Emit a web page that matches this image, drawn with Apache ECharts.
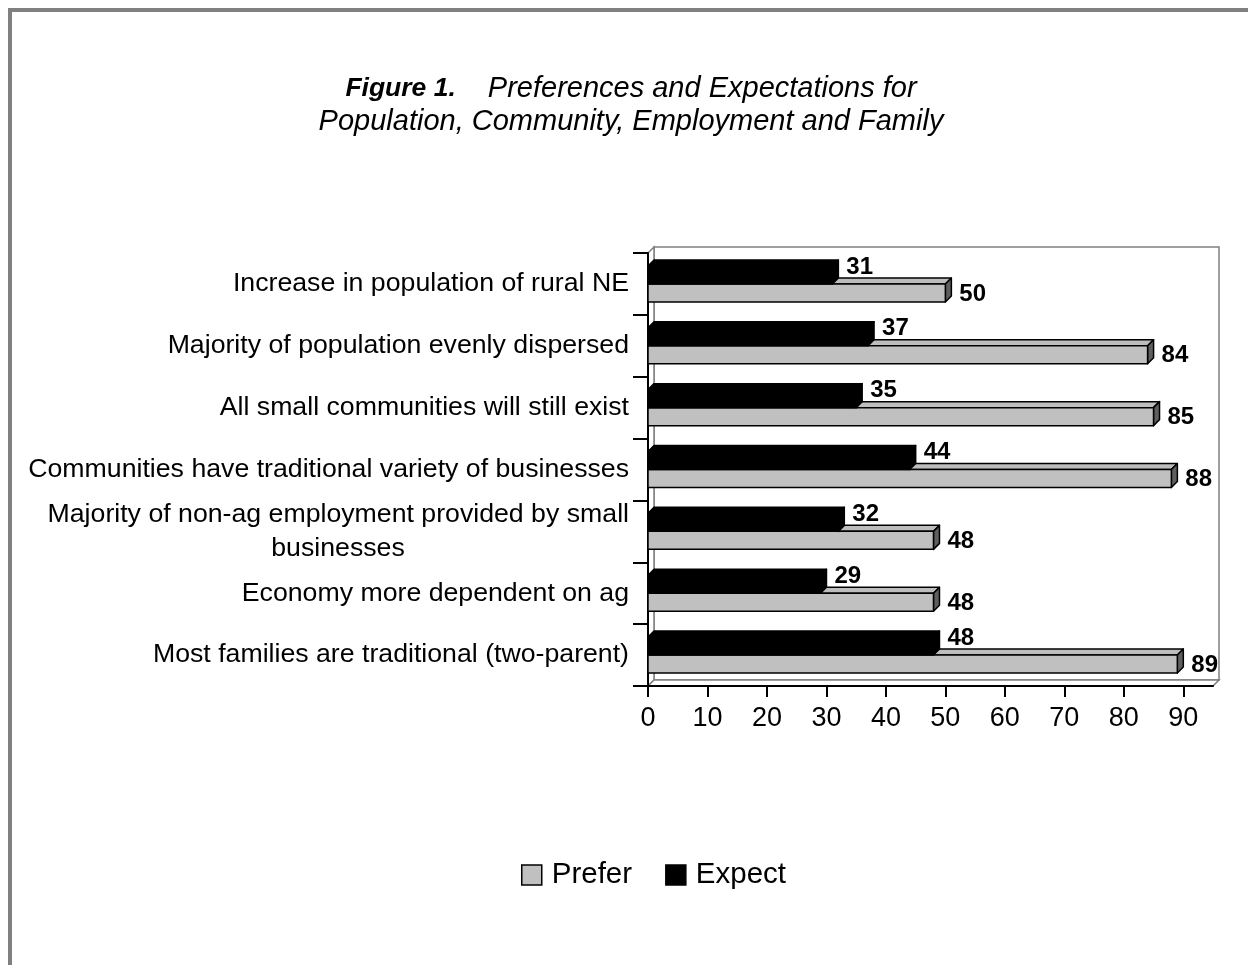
<!DOCTYPE html>
<html>
<head>
<meta charset="utf-8">
<script src="https://cdn.jsdelivr.net/npm/echarts@6/dist/echarts.min.js"></script>
<style>
html,body{margin:0;padding:0;background:#fff;}
#chart{width:1248px;height:965px;}
</style>
</head>
<body>
<div id="chart"></div>
<script>
const categories = [
  'Increase in population of rural NE',
  'Majority of population evenly dispersed',
  'All small communities will still exist',
  'Communities have traditional variety of businesses',
  'Majority of non-ag employment provided by small\nbusinesses',
  'Economy more dependent on ag',
  'Most families are traditional (two-parent)'
];
const preferValues = [50, 84, 85, 88, 48, 48, 89];
const expectValues = [31, 37, 35, 44, 32, 29, 48];
const xTicks = [0, 10, 20, 30, 40, 50, 60, 70, 80, 90];

const FONT = "'Liberation Sans', Arial, Helvetica, sans-serif";
const CAT_FS = 26.7;
const GL = 648, GT = 253, GW = 565, GH = 433, D = 6;

// measure first line of the two-line label so the second line can be centred under it
const cv = document.createElement('canvas').getContext('2d');
cv.font = CAT_FS + 'px ' + FONT;
function catFormatter(v) {
  if (v.indexOf('\n') < 0) return v;
  const parts = v.split('\n');
  return '{a|' + parts[0] + '}\n{b|' + parts[1] + '}';
}
const line1W = Math.ceil(cv.measureText(categories[4].split('\n')[0]).width);

function makeRender(isExpect) {
  return function (params, api) {
    const v = api.value(0), ci = api.value(1);
    const p0 = api.coord([0, ci]);
    const p1 = api.coord([v, ci]);
    const band = api.size([0, 1])[1];
    const h = Math.round(band * 0.29);
    const cy = p0[1];
    const y0 = isExpect ? cy - h : cy;
    const y1 = y0 + h;
    const x0 = p0[0], x1 = p1[0];
    const front = isExpect ? '#000' : '#c0c0c0';
    const topc = isExpect ? '#000' : '#bdbdbd';
    const side = isExpect ? '#000' : '#5f5f5f';
    const st = { stroke: '#000', lineWidth: 1.5, lineJoin: 'round' };
    return {
      type: 'group',
      children: [
        { type: 'polygon', shape: { points: [[x0, y0], [x0 + D, y0 - D], [x1 + D, y0 - D], [x1, y0]] }, style: Object.assign({ fill: topc }, st) },
        { type: 'polygon', shape: { points: [[x1, y0], [x1 + D, y0 - D], [x1 + D, y1 - D], [x1, y1]] }, style: Object.assign({ fill: side }, st) },
        { type: 'rect', shape: { x: x0, y: y0, width: x1 - x0, height: h }, style: Object.assign({ fill: front }, st) },
        { type: 'text', style: {
            text: String(v), x: x1 + D + 8, y: isExpect ? cy - 17 : cy + 10,
            fill: '#000', font: 'bold 24px ' + FONT,
            align: 'left', verticalAlign: 'middle', textAlign: 'left', textVerticalAlign: 'middle'
          } }
      ]
    };
  };
}

const chart = echarts.init(document.getElementById('chart'), null, { renderer: 'canvas' });
const option = {
  backgroundColor: '#fff',
  animation: false,
  title: {
    left: 626, top: 67, textAlign: 'center',
    text: '{b|Figure 1.}{i|Preferences and Expectations for}\n{i|Population, Community, Employment and Family}',
    textStyle: {
      rich: {
        b: { fontFamily: FONT, fontSize: 26.5, fontStyle: 'italic', fontWeight: 'bold', color: '#000', lineHeight: 33, padding: [0, 32, 0, 0] },
        i: { fontFamily: FONT, fontSize: 29, fontStyle: 'italic', fontWeight: 'normal', color: '#000', lineHeight: 33 }
      }
    }
  },
  legend: {
    data: [{ name: 'Prefer', icon: 'rect' }, { name: 'Expect', icon: 'rect' }],
    left: 516, top: 855,
    itemWidth: 20, itemHeight: 20, itemGap: 33,
    itemStyle: { borderColor: '#000', borderWidth: 1.5 },
    textStyle: { fontFamily: FONT, fontSize: 29.5, color: '#000', padding: [0, 0, 0, 5] }
  },
  grid: { left: GL, top: GT, width: GW, height: GH, containLabel: false },
  xAxis: {
    type: 'value', min: 0, max: 95, interval: 10,
    axisLine: { show: true, lineStyle: { color: '#000', width: 2 } },
    axisTick: { show: true, length: 11, customValues: xTicks, lineStyle: { color: '#000', width: 2 } },
    axisLabel: { customValues: xTicks, margin: 19, fontFamily: FONT, fontSize: 27, color: '#000' },
    splitLine: { show: false }
  },
  yAxis: {
    type: 'category', inverse: true, data: categories,
    axisLine: { show: true, lineStyle: { color: '#000', width: 2 } },
    axisTick: { show: true, length: 15, lineStyle: { color: '#000', width: 2 } },
    axisLabel: {
      margin: 19, fontFamily: FONT, fontSize: CAT_FS, color: '#000', lineHeight: 34,
      formatter: catFormatter,
      rich: {
        a: { fontFamily: FONT, fontSize: CAT_FS, color: '#000', lineHeight: 34 },
        b: { fontFamily: FONT, fontSize: CAT_FS, color: '#000', lineHeight: 34, width: line1W, align: 'center' }
      }
    },
    splitLine: { show: false }
  },
  graphic: {
    elements: [
      { type: 'rect', z: -20, silent: true, shape: { x: 10, y: 10, width: 1400, height: 1200 }, style: { stroke: '#808080', lineWidth: 4, fill: '#fff' } },
      { type: 'rect', z: -10, silent: true, shape: { x: GL + D, y: GT - D, width: GW, height: GH }, style: { stroke: '#808080', lineWidth: 1.5, fill: '#fff' } },
      { type: 'polygon', z: -9, silent: true, shape: { points: [[GL, GT], [GL + D, GT - D], [GL + D, GT + GH - D], [GL, GT + GH]] }, style: { stroke: '#808080', lineWidth: 1.5, fill: '#fff' } },
      { type: 'polygon', z: -9, silent: true, shape: { points: [[GL, GT + GH], [GL + D, GT + GH - D], [GL + GW + D, GT + GH - D], [GL + GW, GT + GH]] }, style: { stroke: '#808080', lineWidth: 1.5, fill: '#fff' } }
    ]
  },
  series: [
    {
      name: 'Prefer', type: 'custom', itemStyle: { color: '#c0c0c0' },
      encode: { x: 0, y: 1 },
      data: categories.map((c, i) => [preferValues[i], i]),
      renderItem: makeRender(false)
    },
    {
      name: 'Expect', type: 'custom', itemStyle: { color: '#000' },
      encode: { x: 0, y: 1 },
      data: categories.map((c, i) => [expectValues[i], i]),
      renderItem: makeRender(true)
    }
  ]
};
chart.setOption(option);
</script>
</body>
</html>
